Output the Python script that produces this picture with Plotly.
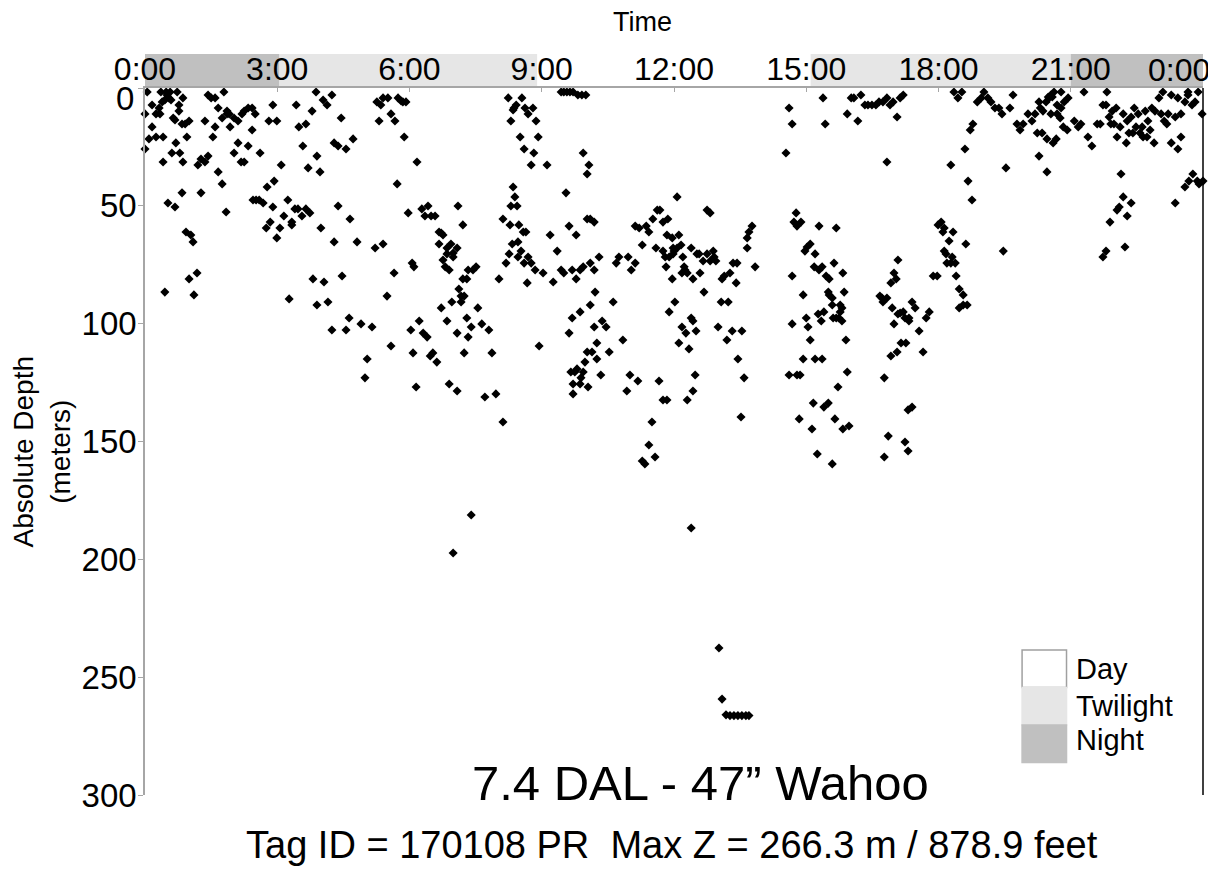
import plotly.graph_objects as go

# ---- data: time of day (hours) and absolute depth (m) ----
time_a = [0.0, 0.0, 0.05, 0.09, 0.16, 0.16, 0.25, 0.25, 0.32, 0.34,
          0.36, 0.39, 0.41, 0.41, 0.45, 0.48, 0.5, 0.52, 0.54, 0.57,
          0.59, 0.61, 0.64, 0.68, 0.68, 0.70, 0.73, 0.77, 0.77, 0.79,
          0.84, 0.84, 0.86, 0.86, 0.91, 0.93, 0.95, 1.0, 1.0, 1.04,
          1.09, 1.18, 1.2, 1.27, 1.27, 1.36, 1.36, 1.43, 1.43, 1.5,
          1.54, 1.59, 1.59, 1.66, 1.66, 1.75, 1.75, 1.79, 1.84, 1.86,
          1.86, 1.91, 1.93, 2.02, 2.02, 2.11, 2.11, 2.18, 2.2, 2.25,
          2.25, 2.34, 2.34, 2.43, 2.43, 2.45, 2.5, 2.52, 2.59, 2.61,
          2.68, 2.75, 2.77, 2.81, 2.84, 2.9, 2.9, 2.93, 2.99, 2.99,
          3.06, 3.09, 3.15, 3.24, 3.33, 3.33, 3.4, 3.43, 3.47, 3.49,
          3.56, 3.58, 3.65, 3.65, 3.7, 3.74, 3.79, 3.81, 3.88, 3.9,
          3.97, 3.99, 4.04, 4.06, 4.13, 4.24, 4.29, 4.29, 4.38, 4.38,
          4.45, 4.47, 4.56, 4.65, 4.72, 4.81, 5.22, 5.26, 5.31, 5.35,
          5.4, 5.4, 5.51, 5.58, 5.65, 5.67, 5.72, 5.74, 5.81, 5.85,
          5.88, 5.92, 5.97, 6.06, 6.1, 6.17, 6.28, 6.35, 6.42, 6.49,
          6.58, 6.67, 6.72, 6.76, 6.67, 6.76, 6.81, 6.85, 6.85, 6.9,
          6.94, 6.99, 6.99, 7.08, 7.1, 7.21, 7.21, 7.3, 7.33, 7.44,
          7.51, 8.03, 8.12, 8.19, 8.24, 8.26, 8.28, 8.3, 8.3, 8.33,
          8.35, 8.35, 8.37, 8.39, 8.42, 8.44, 8.46, 8.48, 8.51, 8.53,
          8.55, 8.58, 8.6, 8.6, 8.62, 8.64, 8.67, 8.69, 8.69, 8.76,
          8.8, 8.82, 8.85, 8.87, 8.92]
depth_a = [11.0, 25.9, 1.7, 21.6, 7.2, 16.5, 11.0, 20.8, 8.5, 11.0,
           1.7, 5.9, 31.4, 20.8, 5.1, 1.7, 3.0, 48.8, 4.2, 1.7,
           5.1, 27.6, 12.7, 50.5, 13.6, 23.3, 1.7, 7.2, 9.8, 27.6,
           15.3, 44.5, 4.2, 31.4, 15.3, 61.1, 20.8, 81.0, 14.0, 62.4,
           65.3, 78.5, 32.7, 30.1, 44.5, 31.4, 14.0, 28.9, 3.0, 4.2,
           20.8, 4.2, 16.5, 8.5, 35.6, 12.7, 40.7, 1.7, 52.6, 11.0,
           9.8, 11.0, 16.5, 12.7, 27.6, 14.0, 23.3, 31.4, 11.0, 31.4,
           9.8, 24.6, 8.5, 8.5, 17.8, 47.5, 11.0, 47.5, 47.5, 27.6,
           48.8, 59.4, 42.0, 14.0, 56.9, 7.2, 50.5, 39.5, 63.6, 14.0,
           59.4, 32.7, 54.3, 47.5, 58.1, 56.9, 51.3, 7.2, 51.3, 16.5,
           54.3, 24.6, 51.3, 15.3, 33.9, 53.0, 9.8, 81.0, 1.7, 28.9,
           35.6, 59.4, 5.1, 82.3, 7.2, 3.0, 65.3, 23.3, 24.6, 50.1,
           12.7, 79.8, 25.9, 55.6, 21.6, 65.3, 67.9, 5.9, 14.0, 7.2,
           4.2, 66.2, 4.2, 11.0, 78.5, 14.0, 40.7, 4.2, 5.5, 5.9,
           20.8, 5.9, 53.0, 74.3, 75.9, 31.4, 51.3, 54.3, 50.1, 54.3,
           54.3, 61.1, 61.5, 62.4, 66.2, 73.0, 75.9, 67.9, 70.4, 77.2,
           66.2, 70.0, 71.7, 67.9, 50.1, 58.1, 81.0, 81.0, 77.2, 77.2,
           75.9, 81.0, 55.6, 74.3, 4.2, 70.4, 58.1, 50.1, 14.0, 66.2,
           9.3, 42.0, 8.5, 46.2, 7.2, 50.1, 65.3, 58.1, 20.8, 69.2,
           4.2, 61.1, 74.3, 25.9, 8.5, 61.1, 82.7, 11.0, 71.7, 32.7,
           8.5, 27.6, 77.2, 14.0, 20.8]

time_b = [0.45, 1.11, 3.27, 3.9, 4.15, 4.24, 4.56, 4.63, 4.9, 4.99,
          5.04, 5.15, 5.49, 5.58, 6.03, 6.08, 6.15, 6.22, 6.31, 6.4,
          6.47, 6.53, 6.62, 6.72, 6.85, 6.9, 6.96, 7.08, 7.08, 7.12,
          7.17, 7.17, 7.24, 7.24, 7.3, 7.33, 7.4, 7.55, 7.64, 7.71,
          7.8, 7.87, 7.96, 8.12, 8.46, 8.76, 8.94]
depth_b = [86.6, 87.8, 89.5, 92.1, 90.8, 102.7, 102.7, 97.6, 100.1, 123.0,
           115.0, 101.4, 88.3, 109.5, 102.7, 112.4, 126.9, 98.9, 104.0, 105.7,
           113.7, 112.4, 116.3, 93.3, 98.9, 125.6, 90.8, 104.0, 128.6, 85.3,
           88.3, 90.8, 88.3, 112.4, 97.6, 105.7, 101.4, 93.3, 100.1, 131.1,
           102.7, 112.4, 129.8, 141.7, 71.7, 74.3, 109.5]

time_c = [7.4, 6.99, 12.39, 13.02, 13.09, 13.18, 13.27, 13.36, 13.45, 13.54, 13.63, 13.7]
depth_c = [181.2, 197.3, 186.7, 237.6, 259.3, 266.0, 266.3, 266.3, 266.3, 266.3, 266.3, 266.3]

time_d = [9.12, 9.44, 9.5, 9.57, 9.64, 9.71, 9.82, 9.91, 10.0, 9.55,
          9.94, 10.07, 10.03, 10.03, 10.1, 10.19, 9.19, 9.35, 9.62, 9.78,
          9.03, 9.26, 9.44, 9.5, 9.69, 9.78, 9.87, 9.94, 10.1, 10.19,
          10.3, 10.69, 10.75, 10.96, 11.03, 11.12, 11.12, 11.21, 11.28, 11.37,
          11.43, 11.52, 11.59, 11.62, 11.68, 11.75, 11.82, 11.84, 11.86, 11.75,
          11.8, 11.89, 11.96, 11.96, 11.98, 12.0, 11.98, 12.07, 12.07, 12.11,
          12.16, 12.2, 12.18, 12.23, 12.25, 12.3, 12.39, 12.43, 12.52, 12.57,
          12.59, 12.66, 12.75, 12.82, 12.75, 12.82, 12.89, 12.91, 12.95, 13.09,
          13.14, 13.27, 13.34, 13.43, 13.41, 13.66, 13.66, 13.7, 13.77, 13.84,
          14.54, 14.61, 14.68, 14.68, 14.77, 14.72, 14.79, 14.88, 14.97, 15.02,
          15.09, 15.2, 15.18, 15.29, 15.36, 15.29, 15.38, 15.43, 15.45, 15.52]
depth_d = [32.7, 1.7, 1.7, 1.7, 1.7, 1.7, 3.0, 3.0, 3.0, 44.5,
           27.6, 32.7, 36.5, 55.6, 55.6, 56.9, 62.4, 69.2, 58.6, 62.4,
           78.5, 82.3, 77.2, 78.5, 77.2, 81.0, 77.2, 75.9, 74.3, 77.2,
           71.7, 74.3, 71.7, 71.7, 77.2, 74.3, 58.6, 59.4, 66.6, 58.6,
           61.1, 55.6, 67.9, 51.8, 51.8, 56.9, 75.9, 62.4, 55.6, 69.2,
           71.7, 71.7, 63.6, 81.0, 67.9, 69.2, 70.4, 46.2, 67.9, 62.4,
           66.6, 71.7, 78.5, 75.9, 77.2, 78.5, 67.9, 81.0, 70.4, 70.4,
           78.5, 73.4, 51.8, 53.0, 70.4, 73.4, 69.2, 71.7, 73.4, 81.0,
           79.8, 78.5, 74.3, 74.3, 82.7, 63.6, 67.9, 61.1, 58.6, 75.9,
           27.6, 8.5, 15.3, 79.8, 53.0, 56.9, 58.6, 56.9, 69.2, 67.5,
           66.2, 70.4, 75.9, 77.2, 75.9, 58.6, 4.2, 15.3, 79.8, 81.0]

time_e = [10.21, 10.1, 9.87, 9.69, 9.62, 10.19, 10.37, 10.46, 10.25, 10.03,
          10.14, 10.53, 9.98, 10.25, 9.66, 9.75, 9.8, 9.94, 9.89, 9.71,
          9.87, 10.05, 9.71, 10.34, 10.62, 10.84, 10.93, 11.0, 11.18, 11.66,
          11.75, 11.84, 11.5, 11.43, 11.28, 11.34, 11.57, 12.02, 11.89, 12.18,
          12.27, 12.39, 12.43, 12.5, 12.11, 12.34, 12.68, 12.48, 12.43, 12.3,
          13.07, 13.23, 13.0, 13.32, 13.2, 13.54, 13.45, 13.59, 13.52, 14.93,
          14.68, 15.0, 15.04, 15.09, 14.93, 15.2, 15.36, 14.61, 14.79, 14.86,
          14.84, 15.13, 15.16, 15.4, 15.5, 15.25, 15.59, 15.65, 15.83, 15.97,
          15.72, 15.93, 15.63, 15.83, 15.5, 15.52, 15.59, 15.59, 15.77, 15.81,
          15.77, 15.27, 15.34, 15.4, 15.61, 15.68, 15.74, 15.81, 15.86, 15.9,
          16.67, 16.74, 16.83, 16.72, 16.95, 17.08, 17.13, 17.2, 17.24, 17.33,
          17.33, 17.4, 17.47, 16.99, 17.72, 17.79, 17.56, 17.15, 17.26, 17.06,
          16.92, 17.65, 16.77, 17.31, 17.4, 16.86, 17.24, 17.31, 16.77, 17.88,
          17.97, 18.47, 18.56, 18.47, 18.56, 18.65]
depth_e = [86.6, 92.1, 95.0, 97.6, 104.0, 101.4, 98.9, 101.4, 108.2, 112.0,
           112.0, 112.0, 116.3, 115.0, 120.5, 120.5, 119.2, 120.5, 123.0, 125.6,
           125.6, 126.9, 129.8, 121.8, 90.8, 106.9, 128.6, 121.8, 124.3, 124.3,
           132.4, 132.4, 141.7, 151.5, 158.3, 159.5, 156.6, 90.8, 95.0, 101.4,
           104.0, 97.6, 98.9, 103.1, 108.2, 110.7, 86.6, 121.8, 128.6, 132.4,
           90.8, 90.8, 101.4, 103.1, 106.9, 103.1, 115.0, 123.0, 139.6, 87.8,
           100.1, 97.6, 101.4, 106.9, 115.0, 115.0, 115.0, 121.8, 121.8, 121.8,
           140.4, 144.7, 133.7, 135.4, 133.7, 155.3, 159.5, 140.4, 144.7, 143.4,
           126.9, 120.5, 74.3, 78.5, 86.6, 87.8, 89.1, 92.1, 92.1, 93.3,
           95.0, 95.9, 98.9, 95.0, 97.6, 97.6, 97.6, 98.9, 86.6, 106.9,
           88.3, 90.8, 89.1, 89.1, 93.3, 95.9, 95.5, 95.0, 97.6, 97.6,
           98.9, 90.8, 93.3, 100.1, 97.6, 95.0, 103.1, 108.2, 108.2, 112.0,
           113.7, 112.0, 123.0, 136.6, 135.4, 147.7, 150.2, 154.0, 156.6, 79.8,
           79.8, 85.3, 87.8, 93.3, 92.1, 92.1]

time_f = [15.68, 15.93, 16.02, 16.08, 16.17, 16.24, 16.33, 16.4, 16.49, 16.58,
          16.65, 16.74, 16.83, 16.9, 16.97, 17.06, 17.13, 17.2, 16.83, 16.92,
          16.99, 17.04, 17.08, 17.99, 18.06, 18.13, 18.1, 18.33, 18.24, 18.13,
          18.17, 18.19, 18.28, 18.38, 18.31, 18.4, 18.28, 18.35, 18.53, 18.44,
          18.6, 18.67, 18.76, 18.72, 18.78, 18.62, 18.88, 18.97, 19.03, 19.12,
          19.19, 19.28, 19.37, 19.44, 19.53, 19.47, 19.62, 19.69, 19.78, 19.92,
          19.85, 20.03, 20.12, 20.19, 20.24, 20.35, 20.28, 20.28, 20.31, 20.37,
          20.44, 20.46, 20.46, 20.49, 20.51, 20.55, 20.58, 20.62, 20.55, 20.6,
          20.67, 20.69, 20.78, 20.69, 20.76, 20.78, 20.83, 20.92, 20.85, 20.94,
          21.08, 21.17, 21.23, 21.3, 21.39, 21.48, 21.6, 21.67, 21.73, 21.8,
          21.82, 21.87, 21.94, 22.03, 21.91, 21.98, 22.05, 22.12, 22.14, 22.19,
          22.26, 22.28, 22.37, 22.32, 22.41, 22.44, 22.48, 22.62, 22.53, 22.57,
          22.64, 22.73, 22.69, 22.75, 22.8, 22.84, 22.91, 22.89, 23.0, 23.05,
          23.12, 23.18, 23.09, 23.21, 23.28, 23.43, 23.28, 23.37, 23.43, 23.5,
          23.5, 23.59, 23.66, 23.66, 23.75, 23.82, 23.89, 23.98, 23.37, 23.59,
          23.68, 23.77, 23.87, 23.91, 24.0, 21.89, 22.05, 22.1, 22.19, 22.37,
          22.28, 22.23, 21.73, 21.8]
depth_f = [59.4, 11.0, 4.2, 4.2, 14.0, 3.0, 7.2, 7.2, 7.2, 7.2,
           5.9, 5.9, 4.2, 7.2, 5.9, 12.3, 4.2, 3.0, 31.4, 82.7,
           78.5, 81.0, 73.0, 58.1, 56.9, 59.4, 61.1, 61.1, 64.9, 69.2,
           70.4, 74.3, 74.3, 74.3, 71.7, 79.8, 32.7, 1.7, 1.7, 4.2,
           25.9, 39.5, 47.5, 17.8, 15.3, 66.2, 5.9, 4.2, 1.7, 4.2,
           5.9, 8.5, 8.5, 11.0, 33.9, 69.2, 8.5, 3.0, 15.3, 15.3,
           17.8, 11.0, 14.0, 11.0, 19.1, 19.1, 28.9, 5.9, 8.5, 9.8,
           5.9, 21.6, 35.6, 3.8, 4.2, 3.0, 3.8, 1.7, 11.0, 23.3,
           21.6, 7.2, 8.5, 11.0, 12.7, 1.7, 16.5, 17.8, 5.9, 4.2,
           14.0, 16.5, 15.3, 1.7, 20.8, 24.6, 15.3, 15.3, 7.2, 7.2,
           1.7, 12.3, 9.8, 8.5, 15.3, 15.3, 20.8, 16.5, 36.5, 11.0,
           23.3, 14.0, 12.3, 19.1, 19.1, 8.5, 16.5, 16.5, 11.0, 19.1,
           20.8, 20.8, 9.8, 14.0, 17.8, 8.5, 9.8, 23.3, 4.2, 11.0,
           14.0, 15.3, 1.7, 11.0, 3.0, 4.2, 23.3, 12.3, 25.9, 11.0,
           20.8, 5.9, 1.7, 3.0, 7.2, 5.9, 1.7, 11.0, 48.8, 42.0,
           39.5, 36.5, 39.5, 40.7, 39.5, 56.9, 51.8, 50.5, 46.2, 48.8,
           54.3, 67.5, 71.7, 69.2]

hours = time_a + time_b + time_c + time_d + time_e + time_f
depth = depth_a + depth_b + depth_c + depth_d + depth_e + depth_f

x_tickvals = [0, 3, 6, 9, 12, 15, 18, 21, 24]
# the last "0:00" is drawn as a right-aligned label so it stays inside the page
x_ticktext = ["0:00", "3:00", "6:00", "9:00", "12:00", "15:00", "18:00", "21:00", ""]
last_x_label = "0:00"
y_tickvals = [0, 50, 100, 150, 200, 250, 300]
y_ticktext = ["", "50", "100", "150", "200", "250", "300"]   # the "0" is drawn just below the top edge

band_names = ["Night", "Twilight", "Day", "Twilight", "Night"]
band_start = [0.0, 3.05, 8.9, 15.1, 21.0]
band_end = [3.05, 8.9, 15.1, 21.0, 24.0]
band_colors = {"Day": "#ffffff", "Twilight": "#e6e6e6", "Night": "#c0c0c0"}
legend_names = ["Day", "Twilight", "Night"]

title_text = "7.4 DAL - 47\u201d Wahoo"
subtitle_text = "Tag ID = 170108 PR\u00a0\u00a0Max Z = 266.3 m / 878.9 feet"

FONT = "Liberation Sans, Arial, sans-serif"

fig = go.Figure()
fig.add_trace(go.Scatter(
    x=hours, y=depth, mode="markers",
    marker=dict(symbol="diamond", size=7, color="black", line=dict(width=0)),
    showlegend=False, cliponaxis=False, hoverinfo="x+y"))

# day/night strip above the plot
for name, s, e in zip(band_names, band_start, band_end):
    fig.add_shape(type="rect", xref="x", yref="paper", x0=s, x1=e, y0=1.0, y1=1.048,
                  fillcolor=band_colors[name], line=dict(width=0), layer="below")

# right border line
fig.add_shape(type="line", xref="paper", yref="paper", x0=1, x1=1, y0=0, y1=1,
              line=dict(color="black", width=1.5))

# legend boxes + labels
box_top = 0.205
box_h = 0.053
label_nudge = [0.0, 0.0, 0.005]
for i, name in enumerate(legend_names):
    y1 = box_top - i * box_h
    y0 = y1 - box_h
    fig.add_shape(type="rect", xref="paper", yref="paper", x0=0.829, x1=0.871, y0=y0, y1=y1,
                  fillcolor=band_colors[name],
                  line=dict(color="#a0a0a0" if name == "Day" else band_colors[name], width=1.5))
    fig.add_annotation(x=0.878, y=(y0 + y1) / 2 + label_nudge[i], xref="paper", yref="paper",
                       text=name, showarrow=False, xanchor="left", yanchor="middle",
                       font=dict(family=FONT, size=29, color="black"))

fig.add_annotation(x=0.525, y=0.017, xref="paper", yref="paper", text=title_text,
                   showarrow=False, xanchor="center", yanchor="middle",
                   font=dict(family=FONT, size=49, color="black"))
fig.add_annotation(x=0.498, y=-0.071, xref="paper", yref="paper", text=subtitle_text,
                   showarrow=False, xanchor="center", yanchor="middle",
                   font=dict(family=FONT, size=38, color="black"))
fig.add_annotation(x=0.47, y=1.094, xref="paper", yref="paper", text="Time",
                   showarrow=False, xanchor="center", yanchor="middle",
                   font=dict(family=FONT, size=27, color="black"))
# last time label at the right end of the top axis
fig.add_annotation(x=1.0085, y=1.0255, xref="paper", yref="paper", text=last_x_label,
                   showarrow=False, xanchor="right", yanchor="middle",
                   font=dict(family=FONT, size=32, color="black"))
# y-axis title (two lines, rotated)
fig.add_annotation(x=-0.098, y=0.485, xref="paper", yref="paper",
                   text="Absolute Depth<br>(meters)", textangle=-90, showarrow=False,
                   xanchor="center", yanchor="middle",
                   font=dict(family=FONT, size=28, color="black"))
# "0" depth label sits just under the top edge
fig.add_annotation(x=-0.0085, y=0.985, xref="paper", yref="paper", text="0",
                   showarrow=False, xanchor="right", yanchor="middle",
                   font=dict(family=FONT, size=33, color="black"))

fig.update_layout(
    width=1208, height=874,
    margin=dict(l=137, r=13, t=80, b=87, autoexpand=False),
    paper_bgcolor="white", plot_bgcolor="white",
    font=dict(family=FONT, color="black"),
    showlegend=False,
    xaxis=dict(range=[0, 24], side="top", tickvals=x_tickvals, ticktext=x_ticktext,
               showgrid=False, zeroline=False, showline=True, linecolor="#a6a6a6", linewidth=1.5,
               ticks="inside", ticklen=4, tickcolor="#a6a6a6", ticklabelstandoff=-7,
               ticklabeloverflow="allow",
               tickfont=dict(family=FONT, size=32, color="black"), automargin=False),
    yaxis=dict(range=[300, 0], tickvals=y_tickvals, ticktext=y_ticktext,
               showgrid=False, zeroline=False,
               showline=True, linecolor="#a6a6a6", linewidth=1.5,
               ticks="outside", ticklen=5, tickcolor="#a6a6a6", ticklabelstandoff=-5,
               tickfont=dict(family=FONT, size=33, color="black"), automargin=False),
)

fig.write_html("out.html")
